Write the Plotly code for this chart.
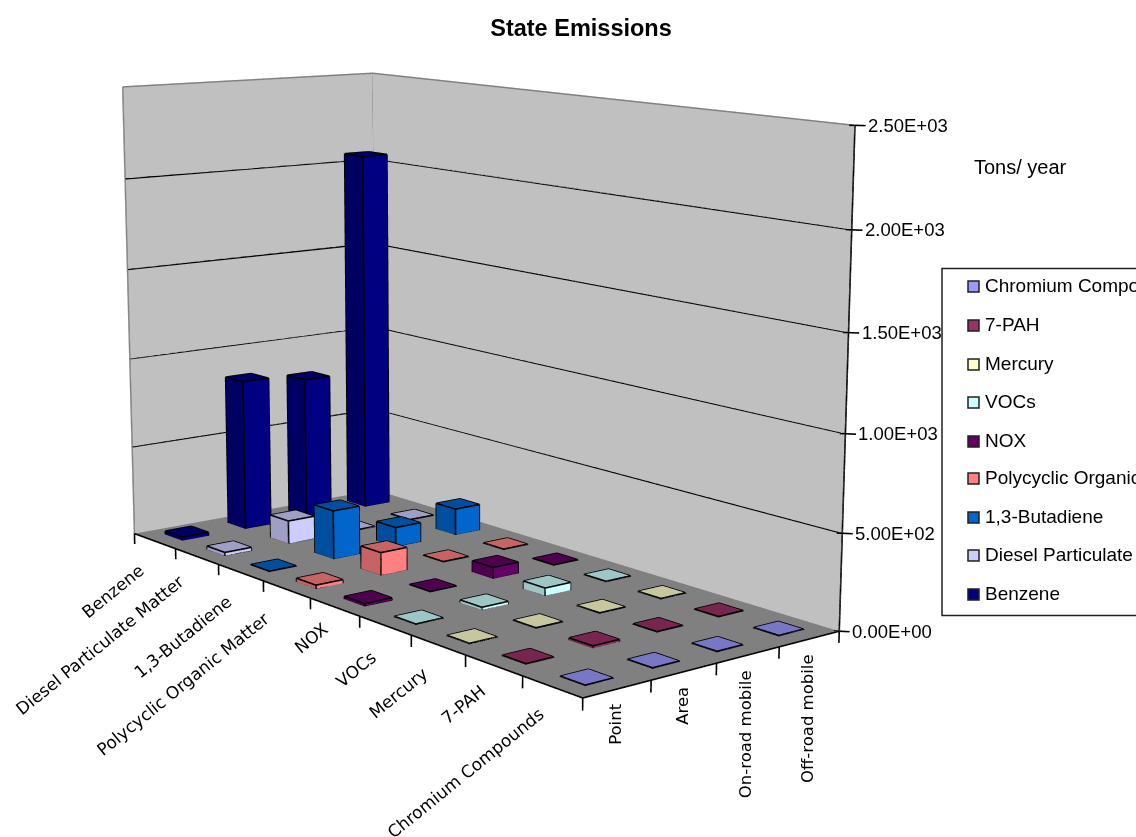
import numpy as np
import plotly.graph_objects as go

categories = ["Benzene","Diesel Particulate Matter","1,3-Butadiene","Polycyclic Organic Matter","NOX","VOCs","Mercury","7-PAH","Chromium Compounds"]
sources = ["Point","Area","On-road mobile","Off-road mobile"]
benzene=[20,850,810,2060]; diesel=[20,130,5,5]; butadiene=[5,270,110,150]
polycyclic=[20,125,5,5]; nox=[15,5,62,5]; vocs=[5,15,42,5]
mercury=[5,5,5,5]; pah=[5,12,5,5]; chromium=[5,5,5,5]
series=[benzene,diesel,butadiene,polycyclic,nox,vocs,mercury,pah,chromium]
colors=["#000080","#CCCCFF","#0066CC","#FF8080","#660066","#CCFFFF","#FFFFCC","#993366","#9999FF"]
z_ticks=[0,500,1000,1500,2000,2500]
z_text=["0.00E+00","5.00E+02","1.00E+03","1.50E+03","2.00E+03","2.50E+03"]

# canvas larger than the window: a long lens, as the source chart has little perspective
PW,PH=1136,837; K=2.6; W=round(PW*K); H=round(PH*K); DX=(W-PW)/2; DY=(H-PH)/2
def px(x): return (x+DX)/W
def py(y): return 1-(y+DY)/H

xr=[-0.9,3.9]; yr=[-0.9,8.9]; zr=[-300,2560]
ay,az,ex,ey,ez,cx,cy,ux,uy=2.0700,1.4161,-4.1374,-5.1989,1.2736,-0.1945,-0.6342,-0.2695,-0.3000

def shade(h,k):
    return "#%02x%02x%02x"%tuple(int(int(h[i:i+2],16)*k) for i in (1,3,5))
w=0.205
fig=go.Figure()
flat=dict(ambient=1,diffuse=0,specular=0,fresnel=0,roughness=1)
def mesh(x,y,z,i,j,k,fc,name=None):
    fig.add_trace(go.Mesh3d(x=x,y=y,z=z,i=i,j=j,k=k,facecolor=fc,flatshading=True,lighting=flat,hoverinfo="skip",showscale=False,name=name))
mesh([-.5,3.5,3.5,-.5],[-.5,-.5,8.5,8.5],[0]*4,[0,0],[1,2],[2,3],["#808080"]*2,"floor")
mesh([-.5,3.5,3.5,-.5],[8.5]*4,[0,0,2500,2500],[0,0],[1,2],[2,3],["#C0C0C0"]*2,"wall")
mesh([3.5]*4,[-.5,8.5,8.5,-.5],[0,0,2500,2500],[0,0],[1,2],[2,3],["#C0C0C0"]*2,"wall")
ex_,ey_,ez_=[],[],[]
def seg(a,b):
    ex_.extend([a[0],b[0],None]); ey_.extend([a[1],b[1],None]); ez_.extend([a[2],b[2],None])
for r,(vals,col) in enumerate(zip(series,colors)):
    Y=8-r; X=[];YY=[];Z=[];I=[];J=[];K_=[];FC=[]
    dk=shade(col,.78)
    for c,v in enumerate(vals):
        n=len(X)
        for dz in (0,v):
            for dx,dy in ((-w,-w),(w,-w),(w,w),(-w,w)):
                X.append(c+dx);YY.append(Y+dy);Z.append(dz)
        faces=[((4,5,6),dk),((4,6,7),dk),((0,1,5),col),((0,5,4),col),((0,3,7),dk),((0,7,4),dk),((1,2,6),dk),((1,6,5),dk),((3,2,6),dk),((3,6,7),dk)]
        for (a,b,d),fc in faces:
            I.append(n+a);J.append(n+b);K_.append(n+d);FC.append(fc)
        for a,b in ((0,1),(1,2),(2,3),(3,0),(4,5),(5,6),(6,7),(7,4),(0,4),(1,5),(2,6),(3,7)):
            seg((X[n+a],YY[n+a],Z[n+a]),(X[n+b],YY[n+b],Z[n+b]))
    mesh(X,YY,Z,I,J,K_,FC,categories[r])
for t in z_ticks[1:-1]:
    seg((-.5,8.5,t),(3.5,8.5,t)); seg((3.5,8.5,t),(3.5,-.5,t))
seg((3.5,-.5,-50),(3.5,-.5,2500)); seg((-.5,8.5,0),(-.5,-.5,0)); seg((-.5,-.5,0),(3.5,-.5,0))
for c in np.arange(-.5,4,1): seg((c,-.5,0),(c,-.5,-60))
for c in np.arange(-.5,9,1): seg((-.5,c,0),(-.5,c,-60))
for t in z_ticks: seg((3.58,-.59,t),(3.46,-.45,t))
fig.add_trace(go.Scatter3d(x=ex_,y=ey_,z=ez_,mode="lines",line=dict(color="black",width=3.2),hoverinfo="skip",showlegend=False))
gx,gy,gz=[],[],[]
for a,b in (((-.5,8.5,0),(-.5,8.5,2500)),((-.5,8.5,2500),(3.5,8.5,2500)),((3.5,8.5,2500),(3.5,-.5,2500)),((3.5,8.5,0),(3.5,8.5,2500))):
    gx+=[a[0],b[0],None];gy+=[a[1],b[1],None];gz+=[a[2],b[2],None]
fig.add_trace(go.Scatter3d(x=gx,y=gy,z=gz,mode="lines",line=dict(color="#808080",width=3),hoverinfo="skip",showlegend=False))

cat_dx=[-4,-6,-3,-11,0,-2,-4,-1,-2]
cat_dy=[-16,-12,-16,-16,-9,-18,-16,-12,-14]
ann=[]
for r,c in enumerate(categories):
    ann.append(dict(x=-.5,y=8-r,z=0,text=c,textangle=-39,showarrow=False,xanchor="right",yanchor="top",xshift=cat_dx[r],yshift=cat_dy[r],font=dict(family="DejaVu Sans",size=17,color="black")))
for j,c in enumerate(sources):
    ann.append(dict(x=j,y=-.5,z=0,text=c,textangle=-90,showarrow=False,xanchor="center",yanchor="top",xshift=-2,yshift=-13,font=dict(family="DejaVu Sans",size=16.5,color="black")))
for t,s in zip(z_ticks,z_text):
    ann.append(dict(x=3.5,y=-.5,z=t,text=s,showarrow=False,xanchor="left",yanchor="middle",xshift=11,font=dict(family="Liberation Sans",size=18.5,color="black")))

leg_y=[286,325,364,402,441,478,517,555,594]
shapes=[dict(type="rect",xref="paper",yref="paper",x0=px(942),x1=px(1140),y0=py(615),y1=py(268),line=dict(color="#202020",width=1.5),fillcolor="white",layer="above")]
pan=[dict(xref="paper",yref="paper",x=px(972),y=py(166),text="Tons/ year",showarrow=False,xanchor="left",yanchor="middle",font=dict(family="Liberation Sans",size=20,color="black"))]
for yy,c,col in zip(leg_y,categories[::-1],colors[::-1]):
    shapes.append(dict(type="rect",xref="paper",yref="paper",x0=px(968),x1=px(979),y0=py(yy+5.5),y1=py(yy-5.5),line=dict(color="#202020",width=1.5),fillcolor=col,layer="above"))
    pan.append(dict(xref="paper",yref="paper",x=px(983),y=py(yy-1),text=c,showarrow=False,xanchor="left",yanchor="middle",font=dict(family="Liberation Sans",size=19,color="black")))
hidden=dict(visible=False,showbackground=False,showgrid=False,zeroline=False,showspikes=False)
fig.update_layout(width=W,height=H,margin=dict(l=0,r=0,t=0,b=0,pad=0),paper_bgcolor="white",showlegend=False,
    title=dict(text="<b>State Emissions</b>",x=px(581),y=py(27),xanchor="center",yanchor="middle",font=dict(family="Liberation Sans",size=23.5,color="black")),
    shapes=shapes,annotations=pan,
    scene=dict(domain=dict(x=[0,1],y=[0,1]),aspectmode="manual",aspectratio=dict(x=1,y=ay,z=az),
        xaxis=dict(range=xr,**hidden),yaxis=dict(range=yr,**hidden),zaxis=dict(range=zr,**hidden),annotations=ann,
        camera=dict(eye=dict(x=ex,y=ey,z=ez),center=dict(x=cx,y=cy,z=0),up=dict(x=ux,y=uy,z=1),projection=dict(type="perspective"))))
post=("document.documentElement.style.overflow='hidden';document.body.style.margin='0';document.body.style.overflow='hidden';"
      "var g=document.getElementById('{plot_id}');g.style.position='absolute';g.style.left='%dpx';g.style.top='%dpx';"%(-DX,-DY))
fig.write_html("out.html",post_script=post,config=dict(displayModeBar=False))
